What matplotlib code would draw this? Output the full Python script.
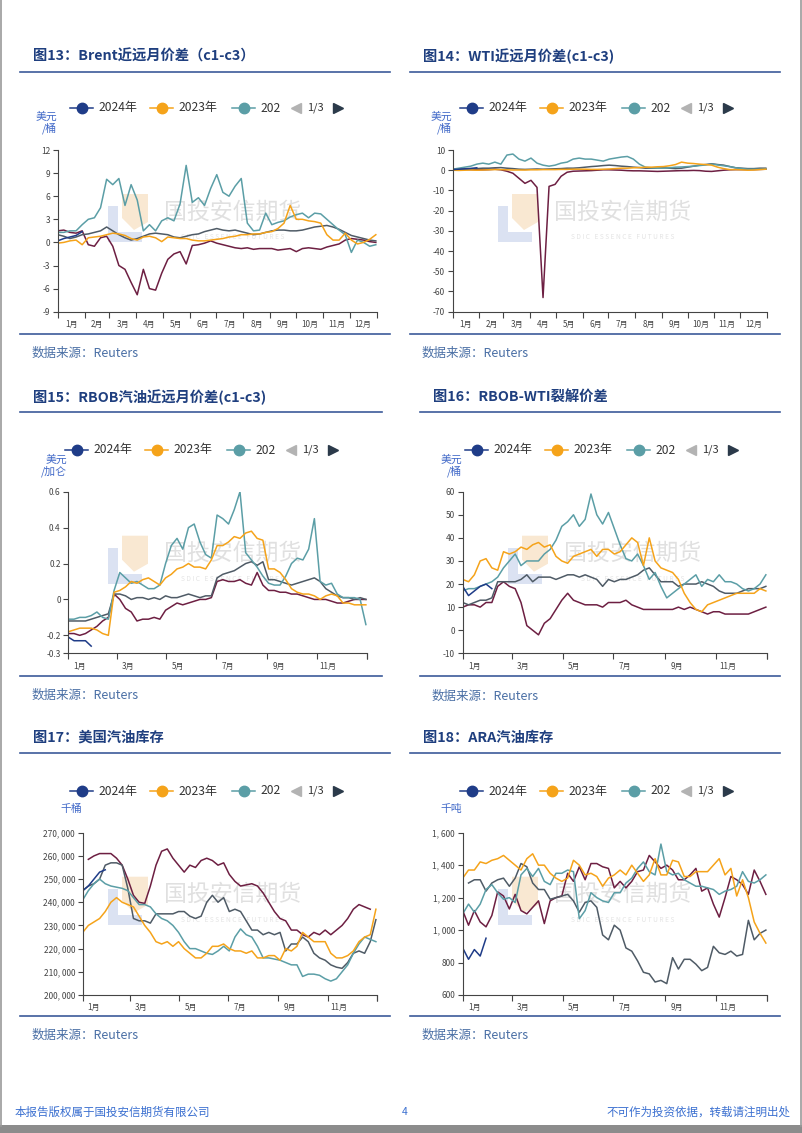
import numpy as np
import matplotlib
matplotlib.use('Agg')
import matplotlib.pyplot as plt
from matplotlib.patches import Rectangle, Polygon

plt.rcParams['font.family'] = ['Noto Sans CJK SC', 'DejaVu Sans']
plt.rcParams['axes.unicode_minus'] = False

nan = float('nan')

# ---------------- data (weekly samples, week 0 = first week of January) ----------------
brent_2024 = [0.2, 0.5, 0.7, 0.9, 1.4]
brent_2023 = [-0.1, 0.0, 0.2, 0.3, -0.3, 0.6, 0.7, 0.8, 1.0, 1.2, 1.1, 0.9, 0.5, 0.3, 0.7, 0.8, 0.6, 0.1,
              0.7, 0.6, 0.5, 0.5, 0.3, 0.2, 0.2, 0.3, 0.4, 0.5, 0.7, 0.8, 1.0, 1.0, 1.1, 1.1, 1.3, 1.4,
              1.8, 2.5, 4.8, 3.0, 3.0, 2.8, 2.7, 2.5, 1.0, 0.3, 0.3, 1.2, 0.3, -0.2, 0.0, 0.4, 1.0]
brent_2022 = [1.3, 1.3, 1.5, 1.5, 2.3, 3.0, 3.2, 4.5, 8.2, 7.5, 8.3, 4.8, 7.5, 5.5, 1.5, 2.3, 1.5, 2.8,
              3.2, 2.8, 5.0, 10.0, 5.2, 5.8, 4.8, 7.0, 8.8, 6.5, 6.0, 7.3, 8.3, 2.5, 1.5, 1.6, 3.8, 2.3,
              2.6, 2.8, 3.3, 3.6, 3.8, 3.2, 3.8, 3.7, 3.0, 2.3, 1.6, 1.0, -1.3, 0.3, 0.0, -0.5, -0.3]
brent_2021 = [1.0, 0.8, 0.5, 0.7, 1.0, 1.1, 1.3, 1.5, 2.0, 1.5, 1.0, 0.6, 0.3, 0.5, 0.8, 1.1, 1.2, 1.1,
              1.0, 0.7, 0.6, 0.8, 1.0, 1.1, 1.4, 1.6, 1.8, 1.6, 1.5, 1.6, 1.4, 1.2, 1.0, 1.1, 1.3, 1.5,
              1.6, 1.6, 1.5, 1.5, 1.6, 1.8, 2.0, 2.1, 2.2, 2.0, 1.7, 1.3, 0.9, 0.7, 0.5, 0.3, 0.2]
brent_2020 = [1.5, 1.6, 1.3, 1.2, 1.5, -0.3, -0.5, 0.6, 0.8, -0.5, -3.0, -3.5, -5.2, -6.8, -3.5, -6.0,
              -6.2, -4.0, -2.2, -1.5, -1.2, -2.8, -0.4, -0.3, -0.1, 0.2, -0.1, -0.3, -0.5, -0.7, -0.8,
              -0.7, -0.9, -0.8, -0.8, -0.8, -1.0, -0.9, -0.8, -1.2, -0.8, -0.7, -0.8, -0.9, -0.6, -0.4,
              -0.2, 0.3, 0.5, 0.4, 0.3, 0.1, 0.0]

wti_2024 = [0.3, 0.5, 0.7, 0.9, 1.2]
wti_2023 = [0.0, -0.1, 0.0, 0.1, 0.0, 0.1, 0.2, 0.3, 0.3, 0.2, 0.1, 0.1, 0.1, 0.2, 0.2, 0.3, 0.3, 0.3,
            0.4, 0.4, 0.5, 0.5, 0.5, 0.4, 0.4, 0.5, 0.6, 0.8, 1.0, 1.0, 1.2, 1.3, 1.5, 1.5, 1.7, 1.8,
            2.2, 2.8, 4.0, 3.5, 3.3, 3.0, 2.8, 2.5, 1.5, 0.8, 0.3, 0.3, 0.2, 0.0, 0.1, 0.3, 0.5]
wti_2022 = [0.5, 1.0, 1.5, 2.0, 3.0, 3.5, 3.0, 4.0, 3.0, 7.5, 8.0, 5.5, 4.5, 6.0, 3.5, 2.5, 2.0, 2.5,
            3.5, 4.0, 5.5, 6.0, 5.5, 5.5, 5.0, 4.5, 5.5, 6.0, 6.5, 6.8, 5.5, 3.0, 1.5, 1.2, 1.0, 1.0,
            1.2, 1.5, 1.6, 1.8, 2.0, 2.3, 2.6, 3.0, 2.6, 2.2, 1.8, 1.2, 0.8, 0.5, 0.5, 0.5, 0.6]
wti_2021 = [0.3, 0.4, 0.5, 0.6, 0.8, 1.0, 1.0, 1.2, 1.3, 1.0, 0.8, 0.5, 0.4, 0.5, 0.6, 0.5, 0.6, 0.7,
            0.8, 1.0, 1.0, 1.2, 1.5, 1.8, 2.0, 2.3, 2.5, 2.3, 2.0, 1.8, 1.5, 1.3, 1.0, 1.0, 1.0, 1.2,
            1.0, 0.8, 1.0, 1.5, 2.0, 2.5, 2.8, 3.2, 2.8, 2.5, 1.8, 1.2, 1.0, 0.8, 0.8, 1.0, 1.0]
wti_2020 = [0.5, 0.6, 0.4, 0.3, 0.2, 0.2, 0.3, 0.5, 0.2, -0.5, -1.5, -4.0, -6.5, -5.0, -8.5, -63.0,
            -8.0, -7.0, -3.0, -1.0, -0.5, -0.4, -0.3, -0.2, 0.0, 0.2, 0.2, 0.1, 0.0, -0.2, -0.3, -0.3,
            -0.4, -0.5, -0.6, -0.5, -0.4, -0.3, -0.2, -0.2, -0.1, -0.2, -0.5, -0.6, -0.3, 0.0, 0.2,
            0.3, 0.3, 0.3, 0.3, 0.4, 0.5]

rbob_2024 = [-0.21, -0.23, -0.23, -0.23, -0.26]
rbob_2023 = [-0.18, -0.17, -0.16, -0.16, -0.16, -0.17, -0.19, -0.20, 0.04, 0.05, 0.07, 0.10, 0.09, 0.11,
             0.12, 0.10, 0.08, 0.12, 0.14, 0.17, 0.18, 0.20, 0.18, 0.18, 0.17, 0.22, 0.30, 0.30, 0.32,
             0.35, 0.34, 0.37, 0.38, 0.34, 0.33, 0.17, 0.17, 0.15, 0.11, 0.06, 0.04, 0.03, 0.03, 0.02,
             0.00, 0.02, 0.03, 0.02, -0.02, -0.02, -0.03, -0.03, -0.03]
rbob_2022 = [-0.11, -0.11, -0.10, -0.10, -0.09, -0.07, -0.10, -0.11, 0.05, 0.15, 0.12, 0.09, 0.10, 0.08,
             0.06, 0.06, 0.08, 0.20, 0.30, 0.34, 0.28, 0.40, 0.42, 0.32, 0.25, 0.23, 0.47, 0.45, 0.42,
             0.50, 0.60, 0.26, 0.22, 0.18, 0.13, 0.09, 0.08, 0.08, 0.13, 0.20, 0.23, 0.22, 0.28, 0.45,
             0.10, 0.08, 0.09, 0.03, 0.01, 0.01, 0.01, 0.00, -0.14]
rbob_2021 = [-0.12, -0.12, -0.12, -0.12, -0.11, -0.10, -0.09, -0.08, 0.03, 0.03, 0.02, 0.00, 0.01, 0.01,
             0.00, 0.01, 0.00, 0.02, 0.01, 0.01, 0.02, 0.03, 0.02, 0.01, 0.02, 0.02, 0.12, 0.14, 0.15,
             0.16, 0.18, 0.20, 0.21, 0.19, 0.21, 0.11, 0.11, 0.10, 0.09, 0.08, 0.09, 0.10, 0.11, 0.12,
             0.10, 0.06, 0.04, 0.02, 0.01, 0.01, 0.00, 0.01, 0.00]
rbob_2020 = [-0.19, -0.19, -0.20, -0.19, -0.17, -0.15, -0.12, -0.10, 0.03, 0.00, -0.05, -0.07, -0.12,
             -0.11, -0.11, -0.10, -0.11, -0.06, -0.04, -0.02, -0.03, -0.02, -0.01, 0.00, 0.00, 0.01,
             0.10, 0.11, 0.10, 0.10, 0.11, 0.09, 0.08, 0.15, 0.08, 0.05, 0.05, 0.04, 0.04, 0.03, 0.03,
             0.02, 0.01, 0.00, 0.00, 0.00, -0.01, -0.02, -0.02, -0.01, 0.00, 0.00, 0.00]

crack_2024 = [19, 15, 17, 19, 20, 18]
crack_2023 = [22, 21, 24, 30, 31, 27, 26, 34, 33, 34, 36, 35, 37, 38, 36, 37, 32, 30, 29, 32, 33, 34,
              35, 32, 35, 35, 33, 34, 37, 40, 38, 28, 40, 30, 27, 26, 25, 22, 16, 12, 9, 8, 11, 12, 13,
              14, 15, 16, 16, 16, 16, 18, 17]
crack_2022 = [17, 18, 18, 19, 20, 21, 23, 27, 30, 33, 28, 30, 30, 30, 33, 35, 39, 45, 47, 50, 45, 48,
              59, 50, 46, 51, 44, 37, 31, 30, 33, 28, 22, 25, 19, 14, 16, 18, 20, 22, 24, 19, 22, 21,
              24, 21, 21, 20, 18, 17, 18, 20, 24]
crack_2021 = [12, 11, 12, 13, 13, 14, 21, 21, 21, 21, 22, 24, 21, 23, 23, 23, 22, 23, 24, 24, 23, 24,
              23, 22, 19, 22, 21, 22, 22, 23, 24, 26, 27, 24, 21, 21, 21, 19, 20, 20, 20, 21, 20, 19,
              17, 16, 16, 16, 17, 18, 18, 18, 19]
crack_2020 = [10, 11, 11, 10, 12, 12, 19, 21, 19, 18, 12, 2, 0, -2, 3, 5, 9, 13, 16, 13, 12, 11, 11,
              11, 10, 12, 12, 12, 13, 11, 10, 9, 9, 9, 9, 9, 9, 10, 9, 10, 9, 8, 7, 8, 8, 7, 7, 7, 7,
              7, 8, 9, 10]

us_gas_2024 = [245000, 247000, 250000, 253000, 254000]
us_gas_2023 = [227000, 230000, 231500, 233000, 236000, 240000, 242000, 240000, 239000, 238000, 234000,
               230000, 227000, 223000, 222000, 223000, 221000, 223000, 220000, 218000, 216000, 216000,
               218000, 221000, 221000, 222000, 220000, 219000, 219000, 218000, 219000, 216000, 216000,
               217000, 217000, 215000, 220000, 219000, 221000, 227000, 225000, 223000, 223000, 223000,
               218000, 216000, 216000, 217000, 219000, 223000, 225000, 226000, 237000]
us_gas_2022 = [241000, 245000, 248000, 250000, 248000, 247000, 246500, 246000, 245000, 242000, 239000,
               239000, 238000, 235000, 233000, 232000, 230000, 227000, 223000, 220000, 220000, 219000,
               218000, 217500, 219000, 221000, 219000, 225000, 228500, 226000, 225000, 221000, 216000,
               216000, 215500, 215000, 214000, 213000, 213000, 208000, 209000, 209000, 208500, 207000,
               206000, 207000, 210000, 213000, 218000, 222000, 225000, 224000, 223000]
us_gas_2021 = [245000, 247000, 248000, 250000, 256000, 257000, 257000, 256000, 246000, 233000, 232000,
               232000, 231000, 235000, 235000, 235000, 235000, 236000, 236000, 234000, 233000, 234000,
               240000, 243000, 240000, 242000, 236000, 237000, 236000, 232000, 228000, 228000, 226000,
               227000, 226000, 227000, 219000, 222000, 222000, 225000, 223000, 218000, 216000, 215000,
               213000, 212000, 211500, 214000, 218000, 219000, 218000, 223000, 232500]
us_gas_2020 = [nan, 258500, 260000, 261000, 261000, 261000, 259000, 256000, 250000, 243000, 240000,
               239500, 247000, 256000, 262000, 263000, 259000, 256000, 253000, 256000, 255000, 258000,
               259000, 258000, 256000, 257000, 252000, 249000, 247000, 247500, 248000, 247000, 244000,
               240000, 236000, 233000, 232000, 228000, 228000, 226000, 225000, 227000, 226000, 228000,
               226000, 228000, 230000, 233000, 237000, 239000, 238000, 237000, nan]

ara_gas_2024 = [890, 820, 880, 840, 950]
ara_gas_2023 = [1320, 1370, 1370, 1420, 1410, 1430, 1440, 1460, 1430, 1400, 1370, 1440, 1470, 1400, 1400,
                1350, 1320, 1300, 1320, 1430, 1400, 1340, 1350, 1330, 1270, 1320, 1340, 1370, 1340, 1400,
                1350, 1300, 1340, 1440, 1340, 1340, 1430, 1420, 1330, 1330, 1360, 1360, 1360, 1400, 1440,
                1340, 1380, 1210, 1310, 1200, 1050, 980, 920]
ara_gas_2022 = [1100, 1160, 1110, 1160, 1250, 1280, 1230, 1190, 1200, 1170, 1340, 1380, 1330, 1380, 1300,
                1280, 1350, 1350, 1370, 1360, 1070, 1120, 1230, 1200, 1180, 1170, 1230, 1230, 1290, 1320,
                1380, 1420, 1360, 1340, 1530, 1360, 1340, 1350, 1310, 1290, 1270, 1270, 1260, 1250, 1220,
                1240, 1250, 1270, 1360, 1300, 1290, 1310, 1340]
ara_gas_2021 = [nan, 1290, 1310, 1310, 1240, 1290, 1310, 1320, 1270, 1320, 1410, 1390, 1290, 1250, 1250,
                1190, 1200, 1210, 1220, 1180, 1110, 1170, 1180, 1140, 970, 940, 1030, 1000, 890, 870, 810,
                740, 730, 680, 690, 670, 830, 760, 820, 820, 790, 750, 770, 900, 860, 850, 870, 840, 850,
                1060, 940, 980, 1000]
ara_gas_2020 = [1120, 1030, 1120, 1050, 1020, 1090, 1235, 1210, 1130, 1220, 1120, 1100, 1140, 1180, 1040,
                1180, 1200, 1210, 1350, 1300, 1390, 1310, 1410, 1410, 1390, 1380, 1260, 1300, 1260, 1300,
                1360, 1370, 1460, 1420, 1380, 1400, 1370, 1310, 1310, 1340, 1380, 1240, 1260, 1160, 1080,
                1200, 1330, 1310, 1280, 1220, 1370, 1300, 1220]

legend_labels = ['2024年', '2023年', '202']
month_labels = ['1月', '2月', '3月', '4月', '5月', '6月', '7月', '8月', '9月', '10月', '11月', '12月']
month_start_days = [0, 31, 59, 90, 120, 151, 181, 212, 243, 273, 304, 334, 365]

titles = ['图13：Brent近远月价差（c1-c3）', '图14：WTI近远月价差(c1-c3)', '图15：RBOB汽油近远月价差(c1-c3)',
          '图16：RBOB-WTI裂解价差', '图17：美国汽油库存', '图18：ARA汽油库存']
units = ['美元\n/桶', '美元\n/桶', '美元\n/加仑', '美元\n/桶', '千桶', '千吨']

# ---------------- styling ----------------
C2024 = '#1f3c88'
C2023 = '#f5a31a'
C2022 = '#5b9ea6'
C2021 = '#4f5b66'
C2020 = '#6d1f42'
TITLE_C = '#1f3f7f'
UNIT_C = '#4169c8'
LINE_C = '#3c5a9a'

W, H = 802, 1133
fig = plt.figure(figsize=(W / 100, H / 100), dpi=100)
fig.patch.set_facecolor('white')

# overlay axes in pixel coordinates (page decoration)
ov = fig.add_axes([0, 0, 1, 1], zorder=0)
ov.set_xlim(0, W)
ov.set_ylim(H, 0)
ov.axis('off')


def px_rect(left, right, top, bottom):
    return [left / W, 1 - bottom / H, (right - left) / W, (bottom - top) / H]


def watermark(ox, top):
    ov.add_patch(Polygon([[ox + 102, top + 44], [ox + 128, top + 44], [ox + 128, top + 72],
                          [ox + 114, top + 80], [ox + 102, top + 68]],
                         closed=True, facecolor='#f9e8d2', edgecolor='none', zorder=1))
    ov.add_patch(Rectangle((ox + 88, top + 56), 10, 36, facecolor='#dbe2f2', edgecolor='none', zorder=1))
    ov.add_patch(Rectangle((ox + 88, top + 82), 34, 10, facecolor='#dbe2f2', edgecolor='none', zorder=1))
    ov.text(ox + 213, top + 62, '国投安信期货', fontsize=16.5, color='#e0e0e0', ha='center', va='center',
            zorder=1)
    ov.text(ox + 213, top + 87, 'S D I C   E S S E N C E   F U T U R E S', fontsize=4.8, color='#e4e4e4',
            ha='center', va='center', zorder=1)


def legend(ox, y):
    items = [(C2024, 50), (C2023, 130), (C2022, 212)]
    for (c, dx), lab in zip(items, legend_labels):
        ov.plot([ox + dx, ox + dx + 23], [y, y], color=c, lw=1.1, zorder=2)
        ov.plot([ox + dx + 11.5], [y], 'o', color=c, ms=7.5, zorder=2)
        ov.text(ox + dx + 28, y, lab, fontsize=8.7, color='#333333', ha='left', va='center', zorder=2)
    ov.plot([ox + 276], [y], marker='<', color='#b3b3b3', ms=7.5, zorder=2)
    ov.text(ox + 287, y, '1/3', fontsize=8, color='#333333', ha='left', va='center', zorder=2)
    ov.plot([ox + 318], [y], marker='>', color='#2b3a4a', ms=7.5, zorder=2)


def panel(idx, ox, title_y, line_y, line_x0, line_x1, legend_dx, legend_y,
          unit_xy, rect, series, ylim, yticks, yticklabels, monthly, bottom_line_y, src_xy):
    ov.text(ox + 13, title_y, titles[idx], fontsize=10.3, fontweight='bold', color=TITLE_C,
            ha='left', va='center', zorder=2)
    ov.plot([line_x0, line_x1], [line_y, line_y], color=LINE_C, lw=1.2, zorder=2)
    ov.plot([line_x0, line_x1], [bottom_line_y, bottom_line_y], color=LINE_C, lw=1.2, zorder=2)
    ov.text(src_xy[0], src_xy[1], '数据来源：Reuters', fontsize=9, style='italic', color='#4a6fa5',
            ha='left', va='center', zorder=2)
    legend(ox + legend_dx, legend_y)
    ov.text(unit_xy[0], unit_xy[1], units[idx], fontsize=7.8, color=UNIT_C, ha='right', va='top',
            linespacing=1.0, zorder=2)
    watermark(ox, rect[2])

    ax = fig.add_axes(px_rect(*rect), zorder=1)
    ax.set_facecolor('none')
    colors = [C2020, C2021, C2022, C2023, C2024]
    for vals, c in zip(series, colors):
        vals = np.asarray(vals, dtype=float)
        days = np.arange(len(vals)) * 7
        ax.plot(days, vals, color=c, lw=1.1, solid_joinstyle='round')
    ax.set_xlim(0, 365)
    ax.set_ylim(*ylim)
    ax.set_yticks(yticks)
    ax.set_yticklabels(yticklabels)
    if monthly:
        ax.set_xticks(month_start_days)
        mids = [(a + b) / 2 for a, b in zip(month_start_days[:-1], month_start_days[1:])]
        ax.set_xticks(mids, minor=True)
        ax.set_xticklabels(month_labels, minor=True)
    else:
        ax.set_xticks(month_start_days[::2] + [365])
        ax.set_xticks([d + 14 for d in month_start_days[:-1:2]], minor=True)
        ax.set_xticklabels(month_labels[::2], minor=True)
    ax.set_xticklabels([])
    ax.tick_params(axis='x', which='major', length=4, width=0.8, color='#444444')
    ax.tick_params(axis='x', which='minor', length=0, pad=6, labelsize=5.8, labelcolor='#444444')
    ax.tick_params(axis='y', length=3.5, width=0.8, color='#444444', labelsize=6, labelcolor='#444444',
                   pad=2)
    for s in ['top', 'right']:
        ax.spines[s].set_visible(False)
    for s in ['left', 'bottom']:
        ax.spines[s].set_color('#444444')
        ax.spines[s].set_linewidth(0.8)
    return ax


def thousands(v):
    return f'{v:,}'.replace(',', ', ')


# Panel 13
panel(0, 20, 56, 72, 20, 390, 0, 108, (57, 112), (57.7, 376.7, 150, 311.7),
      [brent_2020, brent_2021, brent_2022, brent_2023, brent_2024], (-9, 12), list(range(-9, 13, 3)),
      [str(v) for v in range(-9, 13, 3)], True, 334, (32, 353))
# Panel 14
panel(1, 410, 56, 72, 410, 780, 0, 108, (452, 112), (452.7, 766.7, 150, 311.7),
      [wti_2020, wti_2021, wti_2022, wti_2023, wti_2024], (-70, 10), list(range(-70, 11, 10)),
      [str(v) for v in range(-70, 11, 10)], True, 334, (422, 353))
# Panel 15
panel(2, 20, 397, 412, 20, 382, -5, 450, (67, 455), (68.3, 366.7, 491.7, 653.3),
      [rbob_2020, rbob_2021, rbob_2022, rbob_2023, rbob_2024], (-0.3, 0.6),
      [-0.3, -0.2, 0, 0.2, 0.4, 0.6], ['-0.3', '-0.2', '0', '0.2', '0.4', '0.6'], False, 676, (32, 695))
# Panel 16
panel(3, 420, 397, 412, 420, 780, -5, 450, (462, 455), (462.7, 766.7, 491.7, 653.3),
      [crack_2020, crack_2021, crack_2022, crack_2023, crack_2024], (-10, 60), list(range(-10, 61, 10)),
      [str(v) for v in range(-10, 61, 10)], False, 676, (432, 696))
# Panel 17
panel(4, 20, 738, 753, 20, 390, 0, 791, (82, 804), (82.7, 376.7, 832.7, 995),
      [us_gas_2020, us_gas_2021, us_gas_2022, us_gas_2023, us_gas_2024], (200000, 270000),
      list(range(200000, 270001, 10000)), [thousands(v) for v in range(200000, 270001, 10000)], False,
      1016, (32, 1035))
# Panel 18
panel(5, 410, 738, 753, 410, 780, 0, 791, (462, 804), (462.7, 766.7, 832.7, 995),
      [ara_gas_2020, ara_gas_2021, ara_gas_2022, ara_gas_2023, ara_gas_2024], (600, 1600),
      list(range(600, 1601, 200)), [thousands(v) for v in range(600, 1601, 200)], False, 1016, (422, 1035))

# footer and page frame
ov.text(15, 1112, '本报告版权属于国投安信期货有限公司', fontsize=8.3, color='#3a6fd0', ha='left', va='center')
ov.text(405, 1112, '4', fontsize=7.5, color='#3a6fd0', ha='center', va='center')
ov.text(790, 1112, '不可作为投资依据，转载请注明出处', fontsize=8.3, color='#3a6fd0', ha='right', va='center')
ov.plot([1, 1], [0, 1126], color='#9a9a9a', lw=1.2)
ov.plot([800.5, 800.5], [0, 1126], color='#9a9a9a', lw=1.2)
ov.add_patch(Rectangle((0, 1125), W, 8, facecolor='#8c8c8c', edgecolor='none'))

fig.savefig('out.png', dpi=100, facecolor='white')
